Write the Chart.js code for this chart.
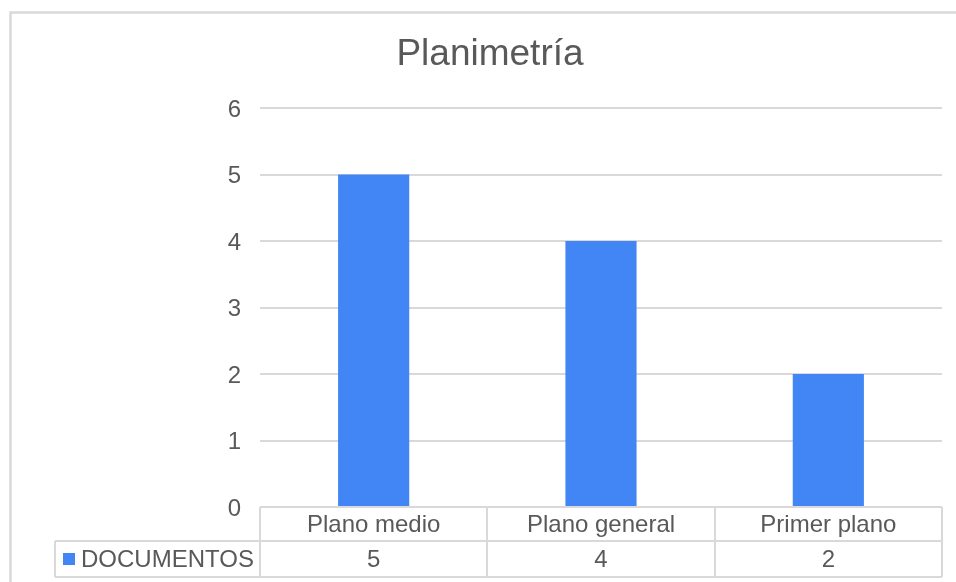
<!DOCTYPE html>
<html>
<head>
<meta charset="utf-8">
<script src="https://cdn.jsdelivr.net/npm/chart.js@4"></script>
<style>
  html, body { margin: 0; padding: 0; background: #fff; }
  #wrap { width: 956px; height: 582px; }
</style>
</head>
<body>
<div id="wrap"><canvas id="planChart" width="956" height="582"></canvas></div>
<script>
// Planimetría - documentos por tipo de plano
const categories = ["Plano medio", "Plano general", "Primer plano"];
const documentos = [5, 4, 2];
const seriesName = "DOCUMENTOS";
const yTicks = [0, 1, 2, 3, 4, 5, 6];

const textColor = "#595959";
const lineColor = "#d9d9d9";
const barColor = "#4285f4";
const fontFamily = "Arial, 'Liberation Sans', sans-serif";

// outer frame + white background
const framePlugin = {
  id: "frame",
  beforeDraw(chart) {
    const c = chart.ctx;
    c.save();
    c.fillStyle = "#fff";
    c.fillRect(0, 0, chart.width, chart.height);
    c.strokeStyle = lineColor;
    c.lineWidth = 2.5;
    c.beginPath();
    c.moveTo(10.5, chart.height);
    c.lineTo(10.5, 12.5);
    c.lineTo(chart.width, 12.5);
    c.stroke();
    c.restore();
  }
};

// data table under the plot (category row + value row with legend key)
const dataTablePlugin = {
  id: "dataTable",
  afterDraw(chart) {
    const c = chart.ctx;
    const area = chart.chartArea;
    const x = chart.scales.x;
    const n = categories.length;
    const colW = (area.right - area.left) / n;
    const row1Top = area.bottom;
    const row2Top = row1Top + 34;
    const row2Bot = row2Top + 36;
    const keyLeft = 55;

    c.save();
    c.strokeStyle = lineColor;
    c.lineWidth = 2;
    c.beginPath();
    // horizontal lines
    c.moveTo(keyLeft, row2Top); c.lineTo(area.right, row2Top);
    c.moveTo(keyLeft, row2Bot); c.lineTo(area.right, row2Bot);
    // vertical lines
    c.moveTo(keyLeft, row2Top); c.lineTo(keyLeft, row2Bot);
    for (let i = 0; i <= n; i++) {
      const lx = Math.round(area.left + i * colW);
      c.moveTo(lx, row1Top); c.lineTo(lx, row2Bot);
    }
    c.stroke();

    c.fillStyle = textColor;
    c.font = "24px " + fontFamily;
    c.textAlign = "center";
    c.textBaseline = "middle";
    categories.forEach((label, i) => {
      const cx = x.getPixelForValue(i);
      c.fillText(label, cx, (row1Top + row2Top) / 2 + 1.5);
      c.fillText(String(documentos[i]), cx, (row2Top + row2Bot) / 2 + 1);
    });

    // legend key + series name
    const midY = (row2Top + row2Bot) / 2;
    c.fillStyle = barColor;
    c.fillRect(63, midY - 6, 12, 12);
    c.fillStyle = textColor;
    c.textAlign = "left";
    c.fillText(seriesName, 81, midY + 1);
    c.restore();
  }
};

new Chart(document.getElementById("planChart"), {
  type: "bar",
  data: {
    labels: categories,
    datasets: [{
      label: seriesName,
      data: documentos,
      backgroundColor: barColor,
      borderWidth: 0,
      barPercentage: 0.313,
      categoryPercentage: 1
    }]
  },
  options: {
    responsive: false,
    animation: false,
    layout: { padding: { left: 38, right: 14, top: 0, bottom: 75 } },
    plugins: {
      legend: { display: false },
      tooltip: { enabled: false },
      title: {
        display: true,
        text: "Planimetría",
        color: textColor,
        font: { family: fontFamily, size: 37, weight: "normal" },
        padding: { top: 33, bottom: 30.6 }
      }
    },
    scales: {
      x: {
        display: false,
        offset: true
      },
      y: {
        min: 0,
        max: 6,
        afterFit(scale) { scale.width = 222; },
        afterBuildTicks(scale) { scale.ticks = yTicks.map(v => ({ value: v })); },
        border: { display: false },
        grid: { color: lineColor, lineWidth: 2, drawTicks: false },
        ticks: {
          color: textColor,
          padding: 19,
          labelOffset: 2,
          font: { family: fontFamily, size: 24 }
        }
      }
    }
  },
  plugins: [framePlugin, dataTablePlugin]
});
</script>
</body>
</html>
